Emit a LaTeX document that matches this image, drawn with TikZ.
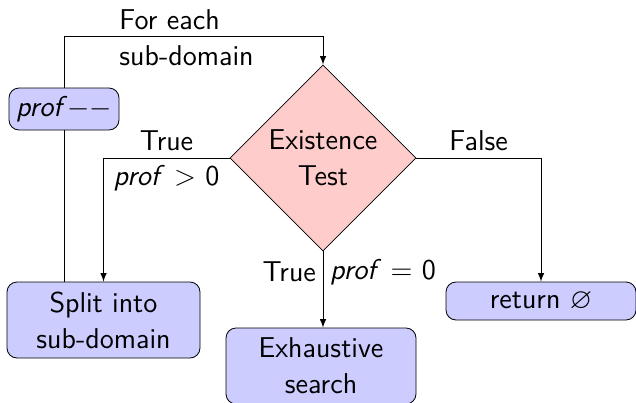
\documentclass[tikz,border=0pt]{standalone}
\usepackage{amsmath}
\usepackage{amsfonts,amssymb}
\usepackage{xcolor}
\usepackage{tikz}
\usetikzlibrary{arrows,shapes}

\tikzset{
    block/.style={draw,rounded corners=5bp,fill=blue!20,align=center,inner sep=1bp,minimum width=96.5bp,minimum height=38bp},
    decision/.style={draw,diamond,aspect=1,fill=red!20,align=center,inner sep=0pt,minimum width=93bp,minimum height=93bp},
    flow/.style={-latex,line width=0.5pt}
}

\begin{document}
\begin{tikzpicture}[font=\sffamily\Large]
    \useasboundingbox (0bp,0bp) rectangle (318bp,-201.5bp);

    \node (test) at (161.5bp,-79bp)[decision] {Existence\\Test};
    \node (dec) at (32bp,-54.5bp)[block,minimum width=55bp,minimum height=21bp] {\textit{prof}$--$};
    \node (split) at (51.75bp,-160bp)[block] {Split into\\sub-domain};
    \node (search) at (160.5bp,-183bp)[block,minimum width=95bp] {Exhaustive\\search};
    \node (ret) at (270.5bp,-150.5bp)[block,minimum width=95bp,minimum height=19bp] {return $\varnothing$};
    \coordinate (loop) at (32bp,-18bp);

    % loop back over the sub-domains
    \draw [line width=0.5pt] (split.north -| dec) -- (dec.south);
    \draw [flow] (dec.north) -- (loop) -| (test.north);
    \node (each) at (93.25bp,-19bp)[align=left] {For each\\sub-domain};

    \draw [flow] (test.west) -| node[pos=0.25,above] {True} node[pos=0.25,below] {\textit{prof} $>$ 0} (split.north);
    \draw [flow] (test.east) -| node[pos=0.25,above] {False} (ret.north);
    \draw [flow] (test.south) -- node[pos=0.27,left] {True} node[pos=0.27,right] {\textit{prof} $=$ 0} (test.south |- search.north);
\end{tikzpicture}
\end{document}
